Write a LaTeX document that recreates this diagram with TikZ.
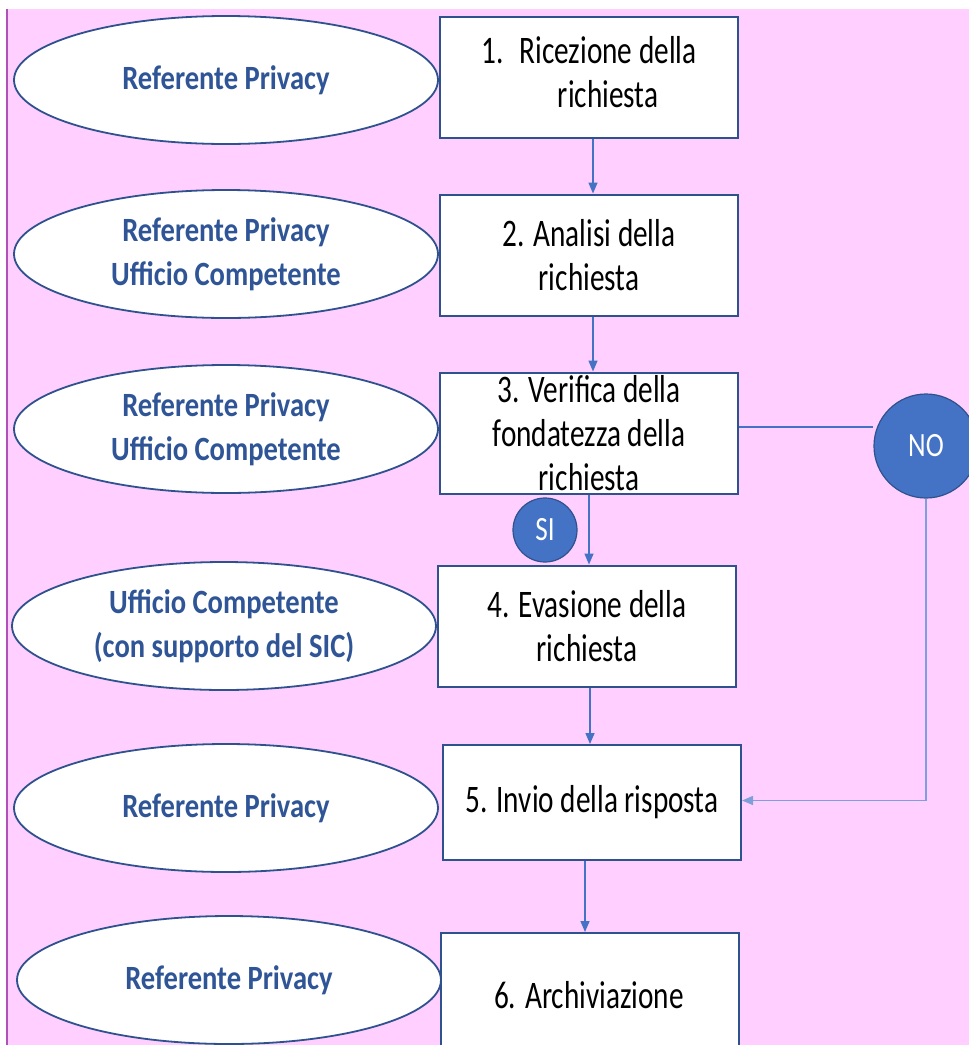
\documentclass[tikz,border=0pt]{standalone}
\usepackage{fontspec}
\usetikzlibrary{arrows.meta,shapes.geometric}
\newfontfamily\boxfont[FakeStretch=0.75]{Carlito}
\newfontfamily\ellfont[FakeStretch=0.84]{Carlito}
\newfontfamily\decfont[FakeStretch=0.8]{Carlito}
\definecolor{pinkbg}{HTML}{FFD0FF}
\definecolor{edgeline}{HTML}{B050B8}
\definecolor{boxborder}{HTML}{2F528F}
\definecolor{arrowblue}{HTML}{4472C4}
\definecolor{lightblue}{HTML}{7F9FDB}
\definecolor{roletext}{HTML}{2F5597}
\tikzset{
  stepbox/.style={draw=boxborder, fill=white, line width=2pt, minimum width=298pt, minimum height=121pt, inner sep=0pt, align=center, font=\boxfont\fontsize{39}{44}\selectfont, text=black},
  role/.style={ellipse, draw=boxborder, fill=white, line width=1.8pt, minimum width=424pt, minimum height=128pt, inner sep=0pt, align=center, font=\ellfont\bfseries\fontsize{34}{44}\selectfont, text=roletext},
  decision/.style={circle, draw=boxborder, fill=arrowblue, line width=1.2pt, inner sep=0pt, text=white, font=\decfont\fontsize{34}{36}\selectfont},
  flow/.style={draw=arrowblue, line width=1.5pt, -{Triangle[length=11pt,width=9pt]}},
}
\begin{document}
\begin{tikzpicture}[x=1pt,y=-1pt]
\useasboundingbox (0,0) rectangle (969,1045);
\fill[pinkbg] (7,9) rectangle (969,1045);
\draw[edgeline, line width=2pt] (7,9) -- (7,1045);
% roles
\node[role] (r1) at (226,80) {Referente Privacy};
\node[role] (r2) at (226,254) {Referente Privacy\\Ufficio Competente};
\node[role] (r3) at (226,429) {Referente Privacy\\Ufficio Competente};
\node[role] (r4) at (224,626) {Ufficio Competente\\(con supporto del SIC)};
\node[role] (r5) at (226,808) {Referente Privacy};
\node[role] (r6) at (229,980) {Referente Privacy};
% steps
\node[stepbox] (b1) at (589,77) {\begin{tabular}{@{}l@{\hspace{16pt}}c@{}}1.&Ricezione della\\&richiesta\end{tabular}};
\node[stepbox] (b2) at (589,255) {2. Analisi della\\richiesta};
\node[stepbox] (b3) at (589,433) {3. Verifica della\\fondatezza della\\richiesta};
\node[stepbox] (b4) at (587,626) {4. Evasione della\\richiesta};
\node[stepbox, minimum height=115pt] (b5) at (592,802.5) {5. Invio della risposta};
\node[stepbox, minimum height=160pt, anchor=north] (b6) at (590,932) {};
\node[font=\boxfont\fontsize{39}{44}\selectfont] (t6) at (589,995) {6. Archiviazione};
% decisions
\node[decision, minimum size=104pt] (no) at (926,446) {NO};
\node[decision, minimum size=64pt] (si) at (545,530) {SI};
% connectors
\draw[flow] ([xshift=4pt]b1.south) -- ([xshift=4pt]b1.south |- b2.north);
\draw[flow] ([xshift=4pt]b2.south) -- ([xshift=4pt]b2.south |- b3.north);
\draw[flow] (b3.south) -- (b3.south |- b4.north);
\draw[flow] ([xshift=3pt]b4.south) -- ([xshift=3pt]b4.south |- b5.north);
\draw[flow] ([xshift=-7pt]b5.south) -- ([xshift=-7pt]b5.south |- b6.north);
\draw[draw=arrowblue, line width=1.5pt] ([yshift=6pt]b3.east) -- ([yshift=6pt]b3.east -| no.west);
\draw[flow, draw=lightblue] (no.south) |- ([yshift=2pt]b5.east);
\end{tikzpicture}
\end{document}
